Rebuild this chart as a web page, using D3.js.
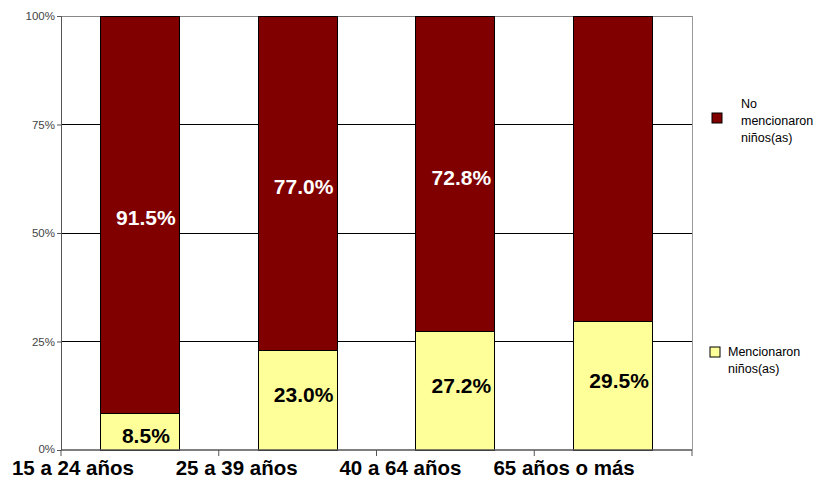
<!DOCTYPE html>
<html><head><meta charset="utf-8">
<script src="https://cdn.jsdelivr.net/npm/d3@7"></script>
<style>body{margin:0;background:#fff}</style>
</head><body>
<svg id="c" width="827" height="478"></svg>
<script>
const categories = ["15 a 24 años", "25 a 39 años", "40 a 64 años", "65 años o más"];
const mencionaron = [8.5, 23.0, 27.2, 29.5];
const noMencionaron = [91.5, 77.0, 72.8, 70.5];
const showNoLabel = [true, true, true, false];
const yTicks = [0, 25, 50, 75, 100];
const seriesNames = ["Mencionaron niños(as)", "No mencionaron niños(as)"];
const colors = ["#FFFF99", "#800000"];

const svg = d3.select("#c");
const m = {l: 61, r: 692, t: 16, b: 450};
const x = d3.scaleBand().domain(categories).range([m.l, m.r]).paddingInner(0.5).paddingOuter(0.25);
const xb = d3.scaleBand().domain(categories).range([m.l, m.r]);
const y = d3.scaleLinear().domain([0, 100]).range([m.b, m.t]);

// gridlines
svg.append("g").selectAll("line").data(yTicks.filter(d => d > 0)).join("line")
  .attr("x1", m.l).attr("x2", m.r).attr("y1", d => y(d)).attr("y2", d => y(d))
  .attr("stroke", d => d === 100 ? "#888" : "#000").attr("stroke-width", 1).attr("shape-rendering", "crispEdges");
// right border
svg.append("line").attr("x1", m.r).attr("x2", m.r).attr("y1", m.t).attr("y2", m.b)
  .attr("stroke", "#999").attr("shape-rendering", "crispEdges");

// bars
const data = categories.map((c, i) => ({c, a: mencionaron[i], b: noMencionaron[i], i}));
const g = svg.append("g");
g.selectAll("rect.a").data(data).join("rect").attr("class", "a")
  .attr("x", d => x(d.c)).attr("width", x.bandwidth())
  .attr("y", d => y(d.a)).attr("height", d => y(0) - y(d.a))
  .attr("fill", colors[0]).attr("stroke", "#000").attr("stroke-width", 1).attr("shape-rendering", "crispEdges");
g.selectAll("rect.b").data(data).join("rect").attr("class", "b")
  .attr("x", d => x(d.c)).attr("width", x.bandwidth())
  .attr("y", d => y(d.a + d.b)).attr("height", d => y(d.a) - y(d.a + d.b))
  .attr("fill", colors[1]).attr("stroke", "#000").attr("stroke-width", 1).attr("shape-rendering", "crispEdges");

// value labels
const lf = "'Liberation Sans Narrow','Arial Narrow','Liberation Sans',Arial,sans-serif";
g.selectAll("text.a").data(data).join("text").attr("class", "a")
  .attr("x", d => x(d.c) + x.bandwidth() / 2 + 6)
  .attr("y", d => d.a < 15 ? y(d.a / 2) + 6 : y(d.a / 2) - 4)
  .attr("text-anchor", "middle").attr("dominant-baseline", "middle")
  .attr("font-family", lf).attr("font-weight", "bold").attr("font-size", 21).attr("fill", "#000")
  .text(d => d.a.toFixed(1) + "%");
g.selectAll("text.b").data(data.filter(d => showNoLabel[d.i])).join("text").attr("class", "b")
  .attr("x", d => x(d.c) + x.bandwidth() / 2 + 6)
  .attr("y", d => y(d.a + d.b / 2) + 5)
  .attr("text-anchor", "middle").attr("dominant-baseline", "middle")
  .attr("font-family", lf).attr("font-weight", "bold").attr("font-size", 21).attr("fill", "#fff")
  .text(d => d.b.toFixed(1) + "%");

// y axis
const ya = svg.append("g").attr("transform", `translate(${m.l},0)`)
  .call(d3.axisLeft(y).tickValues(yTicks).tickFormat(d => d + "%").tickSize(4).tickPadding(2));
ya.select(".domain").attr("stroke", "#555");
ya.selectAll(".tick line").attr("stroke", "#555");
ya.selectAll("text").attr("font-family", "'Liberation Sans',Arial,sans-serif").attr("font-size", 11.5).attr("fill", "#444");
ya.selectAll(".tick").filter(d => d === 0).select("text").attr("dy", "0.2em");

// x axis
const xa = svg.append("g").attr("transform", `translate(0,${m.b})`);
xa.append("line").attr("x1", m.l).attr("x2", m.r).attr("y1", 0).attr("y2", 0).attr("stroke", "#555").attr("stroke-width", 1.5);
const xticks = categories.map(c => xb(c)).concat([m.r]);
xa.selectAll("line.t").data(xticks).join("line").attr("class", "t")
  .attr("x1", d => d).attr("x2", d => d).attr("y1", 0).attr("y2", 6).attr("stroke", "#555");
xa.selectAll("text").data(categories).join("text")
  .attr("x", (d, i) => xb(d) + xb.bandwidth() / 2 - 67 + i * 6)
  .attr("y", 25).attr("text-anchor", "middle")
  .attr("font-family", lf).attr("font-weight", "bold").attr("font-size", 20.5).attr("fill", "#000")
  .text(d => d);

// legend
const lg = svg.append("g").attr("font-family", "'Liberation Sans',Arial,sans-serif").attr("font-size", 12.5).attr("fill", "#000");
lg.append("rect").attr("x", 712).attr("y", 113).attr("width", 10).attr("height", 10).attr("fill", colors[1]).attr("stroke", "#000");
const t1 = lg.append("text").attr("x", 741).attr("y", 108);
["No", "mencionaron", "niños(as)"].forEach((s, i) => t1.append("tspan").attr("x", 741).attr("dy", i ? 17 : 0).text(s));
lg.append("rect").attr("x", 710).attr("y", 347).attr("width", 10).attr("height", 10).attr("fill", colors[0]).attr("stroke", "#000");
const t2 = lg.append("text").attr("x", 728).attr("y", 356);
["Mencionaron", "niños(as)"].forEach((s, i) => t2.append("tspan").attr("x", 728).attr("dy", i ? 17 : 0).text(s));
</script>
</body></html>
